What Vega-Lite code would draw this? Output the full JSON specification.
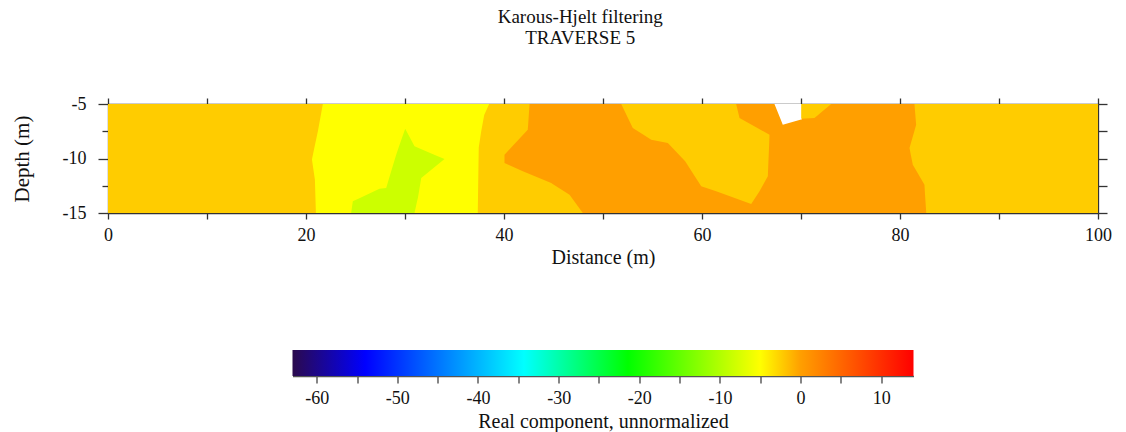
{
  "$schema": "https://vega.github.io/schema/vega-lite/v6.json",
  "background": "white",
  "padding": {"left": 11, "top": 8, "right": 5, "bottom": 2},
  "title": {
    "text": ["Karous-Hjelt filtering", "TRAVERSE 5"],
    "font": "Liberation Serif",
    "fontSize": 19,
    "fontWeight": "normal",
    "lineHeight": 21,
    "color": "#111111",
    "anchor": "middle",
    "offset": 47,
    "dx": 19
  },
  "datasets": {
    "bands": [
      {"region": "bg", "z": 0, "value": -2.32, "depth": -5, "left": 0, "right": 100},
      {"region": "bg", "z": 0, "value": -2.32, "depth": -15, "left": 0, "right": 100},

      {"region": "Y1", "z": 1, "value": -5, "depth": -5, "left": 21.7, "right": 38.5},
      {"region": "Y1", "z": 1, "value": -5, "depth": -6, "left": 21.5, "right": 38.0},
      {"region": "Y1", "z": 1, "value": -5, "depth": -7.5, "left": 21.2, "right": 37.7},
      {"region": "Y1", "z": 1, "value": -5, "depth": -9, "left": 20.85, "right": 37.45},
      {"region": "Y1", "z": 1, "value": -5, "depth": -10.1, "left": 20.6, "right": 37.43},
      {"region": "Y1", "z": 1, "value": -5, "depth": -11.94, "left": 20.9, "right": 37.4},
      {"region": "Y1", "z": 1, "value": -5, "depth": -15, "left": 21.0, "right": 37.35},

      {"region": "O1", "z": 1, "value": 0, "depth": -5, "left": 42.58, "right": 81.46},
      {"region": "O1", "z": 1, "value": 0, "depth": -6.9, "left": 42.44, "right": 81.63},
      {"region": "O1", "z": 1, "value": 0, "depth": -7.36, "left": 42.4, "right": 81.49},
      {"region": "O1", "z": 1, "value": 0, "depth": -9.04, "left": 40.68, "right": 80.96},
      {"region": "O1", "z": 1, "value": 0, "depth": -9.65, "left": 40.05, "right": 81.09},
      {"region": "O1", "z": 1, "value": 0, "depth": -10.41, "left": 40.05, "right": 81.26},
      {"region": "O1", "z": 1, "value": 0, "depth": -10.57, "left": 40.44, "right": 81.29},
      {"region": "O1", "z": 1, "value": 0, "depth": -11.17, "left": 41.9, "right": 81.68},
      {"region": "O1", "z": 1, "value": 0, "depth": -12.25, "left": 44.77, "right": 82.37},
      {"region": "O1", "z": 1, "value": 0, "depth": -12.4, "left": 45.03, "right": 82.47},
      {"region": "O1", "z": 1, "value": 0, "depth": -13.32, "left": 46.62, "right": 82.53},
      {"region": "O1", "z": 1, "value": 0, "depth": -15, "left": 47.96, "right": 82.65},

      {"region": "W1", "z": 3, "value": null, "depth": -5, "left": 67.32, "right": 70.1},
      {"region": "W1", "z": 3, "value": null, "depth": -6.4, "left": 67.94, "right": 70.1},
      {"region": "W1", "z": 3, "value": null, "depth": -6.9, "left": 68.16, "right": 68.16},

      {"region": "G1", "z": 2, "value": -8.28, "depth": -7.27, "left": 30.02, "right": 30.02},
      {"region": "G1", "z": 2, "value": -8.28, "depth": -8.88, "left": 29.4, "right": 30.96},
      {"region": "G1", "z": 2, "value": -8.28, "depth": -9.65, "left": 29.11, "right": 32.95},
      {"region": "G1", "z": 2, "value": -8.28, "depth": -10.05, "left": 28.98, "right": 33.99},
      {"region": "G1", "z": 2, "value": -8.28, "depth": -11.79, "left": 28.4, "right": 31.64},
      {"region": "G1", "z": 2, "value": -8.28, "depth": -12.71, "left": 28.1, "right": 31.47},
      {"region": "G1", "z": 2, "value": -8.28, "depth": -12.77, "left": 27.42, "right": 31.46},
      {"region": "G1", "z": 2, "value": -8.28, "depth": -13.62, "left": 25.45, "right": 31.3},
      {"region": "G1", "z": 2, "value": -8.28, "depth": -13.93, "left": 24.73, "right": 31.22},
      {"region": "G1", "z": 2, "value": -8.28, "depth": -15, "left": 24.56, "right": 30.96},

      {"region": "M1", "z": 2, "value": -2.32, "depth": -5, "left": 51.84, "right": 63.45},
      {"region": "M1", "z": 2, "value": -2.32, "depth": -6.28, "left": 52.52, "right": 63.79},
      {"region": "M1", "z": 2, "value": -2.32, "depth": -7.2, "left": 53.01, "right": 65.6},
      {"region": "M1", "z": 2, "value": -2.32, "depth": -7.82, "left": 54.09, "right": 66.82},
      {"region": "M1", "z": 2, "value": -2.32, "depth": -8.27, "left": 54.87, "right": 66.8},
      {"region": "M1", "z": 2, "value": -2.32, "depth": -8.58, "left": 56.55, "right": 66.79},
      {"region": "M1", "z": 2, "value": -2.32, "depth": -10.26, "left": 58.3, "right": 66.71},
      {"region": "M1", "z": 2, "value": -2.32, "depth": -11.63, "left": 59.27, "right": 66.65},
      {"region": "M1", "z": 2, "value": -2.32, "depth": -12.55, "left": 59.92, "right": 66.09},
      {"region": "M1", "z": 2, "value": -2.32, "depth": -13.01, "left": 61.43, "right": 65.81},
      {"region": "M1", "z": 2, "value": -2.32, "depth": -14.17, "left": 64.97, "right": 64.97},

      {"region": "S1", "z": 2, "value": -2.32, "depth": -5, "left": 70.02, "right": 73.05},
      {"region": "S1", "z": 2, "value": -2.32, "depth": -6.28, "left": 70.02, "right": 71.36},
      {"region": "S1", "z": 2, "value": -2.32, "depth": -6.35, "left": 70.02, "right": 70.02}
    ],
    "bar": [{"lo": -63, "hi": 14}]
  },
  "vconcat": [
    {
      "width": 990,
      "height": 109,
      "data": {"name": "bands"},
      "layer": [
        {
          "transform": [{"filter": "datum.z === 0"}],
          "mark": {"type": "area", "orient": "horizontal", "interpolate": "linear"},
          "encoding": {
            "y": {
              "field": "depth", "type": "quantitative",
              "scale": {"domain": [-15, -5], "nice": false, "zero": false},
              "axis": {
                "orient": "left",
                "title": "Depth (m)",
                "values": [-5, -7.5, -10, -12.5, -15],
                "labelExpr": "datum.value % 5 === 0 ? '' + datum.value : ''",
                "tickSize": {"condition": {"test": "datum.value % 5 === 0", "value": 10}, "value": 6},
                "labelPadding": 12,
                "titlePadding": 30,
                "labelFlush": false,
                "labelFontSize": 18,
                "titleFontSize": 21
              }
            },
            "x": {
              "field": "left", "type": "quantitative", "stack": null,
              "scale": {"domain": [0, 100], "nice": false, "zero": false},
              "axis": {
                "orient": "bottom",
                "title": "Distance (m)",
                "values": [0, 10, 20, 30, 40, 50, 60, 70, 80, 90, 100],
                "labelExpr": "datum.value % 20 === 0 ? '' + datum.value : ''",
                "tickSize": 6,
                "labelPadding": 7,
                "titlePadding": 3,
                "labelFlush": false,
                "labelFontSize": 18,
                "titleFontSize": 20
              }
            },
            "x2": {"field": "right"},
            "detail": {"field": "region"},
            "color": {
              "field": "value", "type": "quantitative", "legend": null,
              "scale": {"domain": [-63, -54, -34.3, -21.4, -5, 0, 14], "range": ["#2b0a4d", "#0000ff", "#00ffff", "#00ff00", "#ffff00", "#ff9f00", "#ff0000"], "interpolate": "rgb"}
            }
          }
        },
        {
          "transform": [{"filter": "datum.z === 1"}],
          "mark": {"type": "area", "orient": "horizontal", "interpolate": "linear"},
          "encoding": {
            "y": {"field": "depth", "type": "quantitative", "axis": null},
            "x": {"field": "left", "type": "quantitative", "stack": null, "axis": null},
            "x2": {"field": "right"},
            "detail": {"field": "region"},
            "color": {
              "field": "value", "type": "quantitative", "legend": null,
              "scale": {"domain": [-63, -54, -34.3, -21.4, -5, 0, 14], "range": ["#2b0a4d", "#0000ff", "#00ffff", "#00ff00", "#ffff00", "#ff9f00", "#ff0000"], "interpolate": "rgb"}
            }
          }
        },
        {
          "transform": [{"filter": "datum.z === 3"}],
          "mark": {"type": "area", "orient": "horizontal", "interpolate": "linear", "color": "white"},
          "encoding": {
            "y": {
              "field": "depth", "type": "quantitative",
              "axis": {"orient": "right", "values": [-5, -7.5, -10, -12.5, -15], "labels": false, "title": null, "tickSize": 9}
            },
            "x": {
              "field": "left", "type": "quantitative", "stack": null,
              "axis": {"orient": "top", "values": [0, 10, 20, 30, 40, 50, 60, 70, 80, 90, 100], "labels": false, "title": null, "tickSize": 6}
            },
            "x2": {"field": "right"},
            "detail": {"field": "region"}
          }
        },
        {
          "transform": [{"filter": "datum.z === 2"}],
          "mark": {"type": "area", "orient": "horizontal", "interpolate": "linear"},
          "encoding": {
            "y": {"field": "depth", "type": "quantitative", "axis": null},
            "x": {"field": "left", "type": "quantitative", "stack": null, "axis": null},
            "x2": {"field": "right"},
            "detail": {"field": "region"},
            "color": {
              "field": "value", "type": "quantitative", "legend": null,
              "scale": {"domain": [-63, -54, -34.3, -21.4, -5, 0, 14], "range": ["#2b0a4d", "#0000ff", "#00ffff", "#00ff00", "#ffff00", "#ff9f00", "#ff0000"], "interpolate": "rgb"}
            }
          }
        }
      ],
      "resolve": {"axis": {"x": "independent", "y": "independent"}}
    },
    {
      "width": 621,
      "height": 26,
      "data": {"name": "bar"},
      "mark": {
        "type": "rect",
        "color": {
          "gradient": "linear", "x1": 0, "y1": 0, "x2": 1, "y2": 0,
          "stops": [
            {"offset": 0, "color": "#2b0a4d"},
            {"offset": 0.1169, "color": "#0000ff"},
            {"offset": 0.3727, "color": "#00ffff"},
            {"offset": 0.5403, "color": "#00ff00"},
            {"offset": 0.7532, "color": "#ffff00"},
            {"offset": 0.8182, "color": "#ff9f00"},
            {"offset": 1, "color": "#ff0000"}
          ]
        }
      },
      "encoding": {
        "x": {
          "field": "lo", "type": "quantitative",
          "scale": {"domain": [-63, 14], "nice": false, "zero": false},
          "axis": {
            "orient": "bottom",
            "title": "Real component, unnormalized",
            "values": [-60, -55, -50, -45, -40, -35, -30, -25, -20, -15, -10, -5, 0, 5, 10],
            "labelExpr": "datum.value % 10 === 0 ? '' + datum.value : ''",
            "tickSize": 7,
            "labelPadding": 6,
            "titlePadding": 4,
            "labelFlush": false,
            "labelFontSize": 18,
            "titleFontSize": 20,
            "domainColor": "#555555",
            "tickColor": "#444444"
          }
        },
        "x2": {"field": "hi"}
      }
    }
  ],
  "spacing": 137,
  "bounds": "flush",
  "center": true,
  "config": {
    "font": "Liberation Serif",
    "view": {"stroke": null},
    "axis": {
      "grid": false,
      "labelFont": "Liberation Serif",
      "titleFont": "Liberation Serif",
      "titleFontWeight": "normal",
      "labelColor": "#111111",
      "titleColor": "#111111",
      "domainColor": "#333333",
      "domainWidth": 1.3,
      "tickColor": "#333333",
      "tickWidth": 1.3,
      "labelOverlap": false
    }
  }
}
